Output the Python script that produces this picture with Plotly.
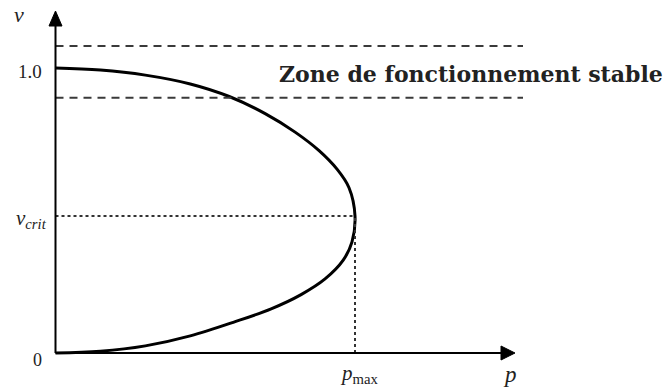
import plotly.graph_objects as go

# Nose curve (P-V characteristic): upper (stable) branch, then lower branch
upper_p = [0.0, 0.15, 0.30, 0.45, 0.58, 0.70, 0.80, 0.88, 0.94, 0.98, 1.0]
upper_v = [1.0, 0.993, 0.975, 0.944, 0.900, 0.840, 0.775, 0.710, 0.645, 0.580, 0.481]
lower_p = [0.99, 0.96, 0.90, 0.82, 0.72, 0.60, 0.45, 0.30, 0.15, 0.0]
lower_v = [0.390, 0.325, 0.260, 0.205, 0.155, 0.110, 0.060, 0.025, 0.006, 0.0]

# Critical point and the stable-operation band
p_max = 1.0
v_crit = 0.481
band_v = [1.077, 0.896]
band_label = "Zone de fonctionnement stable"

W, H = 670, 390
X0, Y0 = 55.5, 353.0      # pixel position of the origin
SX, SY = 299.5, 285.0     # pixels per unit of p and v


def px(x):
    return (x - X0) / SX


def py(y):
    return (Y0 - y) / SY


fig = go.Figure()

fig.add_trace(go.Scatter(
    x=upper_p + lower_p, y=upper_v + lower_v, mode="lines",
    line=dict(color="black", width=3, shape="spline", smoothing=1.0),
    hoverinfo="skip", showlegend=False,
))

shapes = []
# dashed band limits
for v in band_v:
    shapes.append(dict(type="line", x0=0, x1=px(523), y0=v, y1=v,
                       line=dict(color="#3a3a3a", width=2, dash="8px,6px")))
# dotted guides to the critical point
shapes.append(dict(type="line", x0=0, x1=p_max, y0=v_crit, y1=v_crit,
                   line=dict(color="#333", width=2, dash="dot")))
shapes.append(dict(type="line", x0=p_max, x1=p_max, y0=0, y1=v_crit,
                   line=dict(color="#333", width=2, dash="dot")))
# axes
shapes.append(dict(type="line", x0=0, x1=px(504), y0=0, y1=0,
                   line=dict(color="black", width=2)))
shapes.append(dict(type="line", x0=0, x1=0, y0=0, y1=py(24),
                   line=dict(color="black", width=2)))
# arrow heads
shapes.append(dict(type="path",
                   path=f"M {px(515)} {py(353)} L {px(501)} {py(346)} L {px(501)} {py(360)} Z",
                   fillcolor="black", line=dict(color="black", width=1)))
shapes.append(dict(type="path",
                   path=f"M {px(55.5)} {py(11)} L {px(49)} {py(26)} L {px(62)} {py(26)} Z",
                   fillcolor="black", line=dict(color="black", width=1)))

serif = "Liberation Serif"
annotations = [
    dict(x=px(19), y=py(14), text="<i>v</i>", font=dict(family=serif, size=22, color="#222")),
    dict(x=px(30), y=py(71), text="1.0", font=dict(family=serif, size=19, color="#222")),
    dict(x=px(31), y=py(219), text="<i>v<sub>crit</sub></i>", font=dict(family=serif, size=21, color="#222")),
    dict(x=px(37), y=py(360), text="0", font=dict(family=serif, size=18, color="#222")),
    dict(x=px(359), y=py(374), text="<i>p</i><sub>max</sub>", font=dict(family=serif, size=21, color="#222")),
    dict(x=px(510), y=py(374), text="<i>p</i>", font=dict(family=serif, size=23, color="#222")),
    dict(x=px(471), y=py(74), text=band_label,
         font=dict(family="DejaVu Serif", size=22, color="#222", weight="bold")),
]
for a in annotations:
    a.update(xref="x", yref="y", showarrow=False, xanchor="center", yanchor="middle")

fig.update_layout(
    width=W, height=H,
    margin=dict(l=0, r=0, t=0, b=0),
    paper_bgcolor="white", plot_bgcolor="white",
    xaxis=dict(range=[px(0), px(W)], visible=False, fixedrange=True),
    yaxis=dict(range=[py(H), py(0)], visible=False, fixedrange=True),
    shapes=shapes, annotations=annotations,
)

fig.write_html("out.html")
